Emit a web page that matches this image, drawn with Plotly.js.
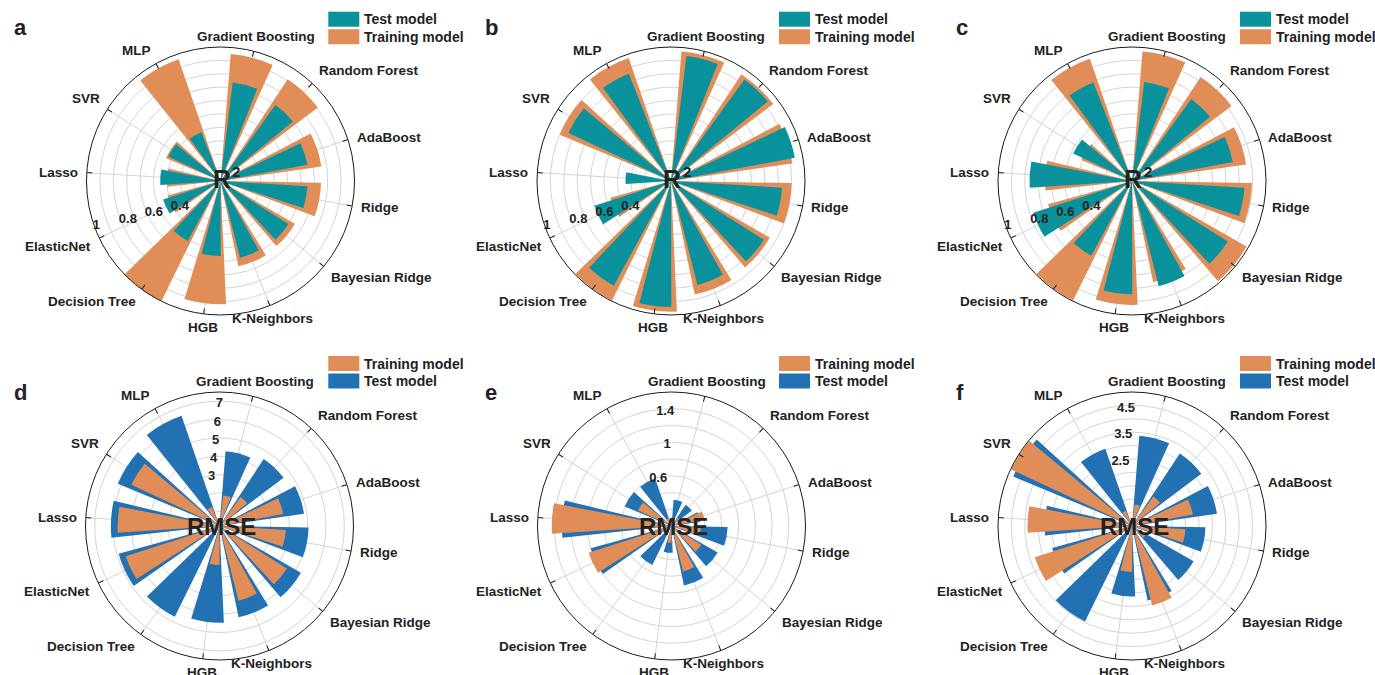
<!DOCTYPE html>
<html>
<head>
<meta charset="utf-8">
<script src="https://cdn.plot.ly/plotly-3.0.1.min.js"></script>
<style>
  html, body { margin: 0; padding: 0; background: #ffffff; }
  #chart { width: 1375px; height: 675px; }
</style>
</head>
<body>
<div id="chart"></div>
<script>
// ---------- data ----------
const categories = ["Gradient Boosting", "Random Forest", "AdaBoost", "Ridge", "Bayesian Ridge",
  "K-Neighbors", "HGB", "Decision Tree", "ElasticNet", "Lasso", "SVR", "MLP"];

// R2 panels (a, b, c)
const r2TrainA = [0.95, 0.91, 0.76, 0.75, 0.64, 0.65, 0.92, 1.00, 0.41, 0.40, 0.44, 0.96];
const r2TestA  = [0.74, 0.70, 0.66, 0.65, 0.60, 0.59, 0.56, 0.51, 0.45, 0.45, 0.43, 0.39];
const r2TrainB = [0.97, 0.955, 0.915, 0.90, 0.85, 0.865, 0.975, 0.995, 0.47, 0.05, 0.90, 0.97];
const r2TestB  = [0.94, 0.935, 0.94, 0.83, 0.82, 0.80, 0.94, 0.89, 0.60, 0.34, 0.845, 0.86];
const r2TrainC = [0.97, 0.93, 0.86, 0.895, 0.985, 0.77, 0.925, 0.995, 0.65, 0.65, 0.41, 0.965];
const r2TestC  = [0.745, 0.755, 0.765, 0.84, 0.845, 0.81, 0.845, 0.635, 0.775, 0.765, 0.485, 0.79];

// RMSE panels (d, e, f)
const rmseTrainD = [1.88, 2.15, 3.73, 3.82, 4.54, 4.40, 2.32, 0.0, 5.57, 5.75, 5.50, 1.30];
const rmseTestD  = [4.29, 4.57, 4.85, 5.05, 5.31, 5.28, 5.47, 5.71, 5.90, 6.12, 6.20, 6.55];
const rmseTrainE = [0.10, 0.12, 0.40, 0.35, 0.42, 0.56, 0.20, 0.0, 1.04, 1.43, 0.44, 0.10];
const rmseTestE  = [0.315, 0.305, 0.35, 0.67, 0.635, 0.725, 0.32, 0.52, 1.00, 1.31, 0.605, 0.60];
const rmseTrainF = [0.81, 1.36, 2.31, 2.00, 0.60, 3.06, 1.72, 0.0, 3.81, 3.90, 4.98, 0.60];
const rmseTestF  = [3.38, 3.24, 3.20, 2.74, 2.65, 2.84, 2.63, 3.97, 3.09, 3.26, 4.80, 3.05];

const legendTest = "Test model";
const legendTrain = "Training model";
const panelLetters = ["a", "b", "c", "d", "e", "f"];

// ---------- styling ----------
const W = 1375, H = 675;
const TEAL = "#0a929c", ORANGE = "#e08d58", BLUE = "#2271b3";
const FONT = "Liberation Sans, Arial, Helvetica, sans-serif";
const TXT = "#222222";
const GRID = "#d4d4d4";
const RAD = 134;
const ROTATION = 75.6, PERIOD = 12.5;
const LABEL_R = RAD + 8;
const centers = [[220.5, 181], [671, 181], [1132, 181], [219.5, 526], [671.5, 526], [1132, 526]];
const px = x => x / W;
const py = y => 1 - y / H;

const WIDE = 0.68, NARROW = 0.51;

const panels = [
  {back: {name: legendTrain, r: r2TrainA, color: ORANGE}, front: {name: legendTest, r: r2TestA, color: TEAL}, kind: "r2"},
  {back: {name: legendTrain, r: r2TrainB, color: ORANGE}, front: {name: legendTest, r: r2TestB, color: TEAL}, kind: "r2"},
  {back: {name: legendTrain, r: r2TrainC, color: ORANGE}, front: {name: legendTest, r: r2TestC, color: TEAL}, kind: "r2"},
  {back: {name: legendTest, r: rmseTestD, color: BLUE}, front: {name: legendTrain, r: rmseTrainD, color: ORANGE}, kind: "d"},
  {back: {name: legendTest, r: rmseTestE, color: BLUE}, front: {name: legendTrain, r: rmseTrainE, color: ORANGE}, kind: "e"},
  {back: {name: legendTest, r: rmseTestF, color: BLUE}, front: {name: legendTrain, r: rmseTrainF, color: ORANGE}, kind: "f"}
];

const radialSpecs = {
  r2: {range: [0, 1], tickvals: [0.1,0.2,0.3,0.4,0.5,0.6,0.7,0.8,0.9,1.0],
       ticktext: ["","","","0.4","","0.6","","0.8","","1"], angle: 194, side: "counterclockwise"},
  d:  {range: [0.2, 7.5], tickvals: [1,2,3,4,5,6,7],
       ticktext: ["","","3","4","5","6","7"], angle: 84, side: "counterclockwise"},
  e:  {range: [0, 1.6], tickvals: [0.2,0.4,0.6,0.8,1.0,1.2,1.4,1.6],
       ticktext: ["","","0.6","","1","","1.4",""], angle: 84, side: "counterclockwise"},
  f:  {range: [0, 5], tickvals: [0.5,1,1.5,2,2.5,3,3.5,4,4.5,5],
       ticktext: ["","","","","2.5","","3.5","","4.5",""], angle: 84, side: "counterclockwise"}
};

const data = [];
const layout = {
  width: W, height: H,
  margin: {l: 0, r: 0, t: 0, b: 0},
  paper_bgcolor: "#ffffff",
  showlegend: false,
  font: {family: FONT, color: TXT},
  annotations: [],
  shapes: []
};

panels.forEach((p, i) => {
  const key = i === 0 ? "polar" : "polar" + (i + 1);
  const [cx, cy] = centers[i];
  [p.back, p.front].forEach((s, j) => {
    data.push({
      type: "barpolar",
      subplot: key,
      name: s.name,
      theta: categories,
      r: s.r,
      width: j === 0 ? WIDE : NARROW,
      marker: {color: s.color, line: {width: 0}},
      hoverinfo: "theta+r+name"
    });
  });
  const rs = radialSpecs[p.kind];
  layout[key] = {
    domain: {x: [px(cx - RAD), px(cx + RAD)], y: [py(cy + RAD), py(cy - RAD)]},
    bgcolor: "#ffffff",
    barmode: "overlay",
    angularaxis: {
      type: "category", period: PERIOD, direction: "clockwise", rotation: ROTATION,
      showline: true, linecolor: "#1a1a1a", linewidth: 1,
      ticks: "inside", ticklen: 5, tickcolor: "#1a1a1a", tickwidth: 1,
      showgrid: true, gridcolor: GRID, gridwidth: 1,
      showticklabels: false
    },
    radialaxis: {
      range: rs.range, tickmode: "array", tickvals: rs.tickvals, ticktext: rs.ticktext,
      angle: rs.angle, tickangle: rs.angle, side: rs.side,
      showline: false, ticks: "", showgrid: true, gridcolor: GRID, gridwidth: 1,
      tickfont: {family: FONT, size: 13, color: TXT, weight: "bold"}
    }
  };

  // category labels around the circle, at the angular axis positions
  categories.forEach((c, k) => {
    const th = (ROTATION - k * 360 / PERIOD) * Math.PI / 180;
    const cs = Math.cos(th), sn = Math.sin(th);
    const xa = Math.abs(cs) < 0.42 ? "center" : (cs > 0 ? "left" : "right");
    const ya = Math.abs(sn) < 0.37 ? "middle" : (sn > 0 ? "bottom" : "top");
    layout.annotations.push({
      xref: "paper", yref: "paper",
      x: px(cx + LABEL_R * cs), y: py(cy - LABEL_R * sn),
      xanchor: xa, yanchor: ya, showarrow: false, borderpad: 0,
      yshift: ya === "top" ? 3 : (ya === "bottom" ? -2 : 0),
      text: c, font: {family: FONT, size: 13.5, color: TXT, weight: "bold"}
    });
  });

  // panel letter
  const col = i % 3;
  const letterX = [12, 483, 954][col];
  const letterY = i < 3 ? 28 : 392;
  layout.annotations.push({
    xref: "paper", yref: "paper", x: px(letterX), y: py(letterY),
    xanchor: "left", yanchor: "middle", showarrow: false,
    text: panelLetters[i], font: {family: FONT, size: 22, color: TXT, weight: "bold"}
  });

  // center label
  if (p.kind === "r2") {
    layout.annotations.push({
      xref: "paper", yref: "paper", x: px(cx + 1), y: py(cy - 2),
      xanchor: "center", yanchor: "middle", showarrow: false,
      text: "R", font: {family: FONT, size: 25, color: TXT, weight: "bold"}
    });
    layout.annotations.push({
      xref: "paper", yref: "paper", x: px(cx + 15.5), y: py(cy - 9.5),
      xanchor: "center", yanchor: "middle", showarrow: false,
      text: "2", font: {family: FONT, size: 15, color: TXT, weight: "bold"}
    });
  } else {
    layout.annotations.push({
      xref: "paper", yref: "paper", x: px(cx + 2), y: py(cy),
      xanchor: "center", yanchor: "middle", showarrow: false,
      text: "RMSE", font: {family: FONT, size: 24, color: TXT, weight: "bold"}
    });
  }

  // legend (two swatches + text)
  const lx = [328.3, 779, 1240][col];
  const ly0 = i < 3 ? 11.7 : 356;
  const items = [p.front, p.back];
  items.forEach((s, k) => {
    const y0 = ly0 + k * 17.5;
    layout.shapes.push({
      type: "rect", xref: "paper", yref: "paper",
      x0: px(lx), x1: px(lx + 31), y0: py(y0 + 15), y1: py(y0),
      fillcolor: s.color, line: {width: 0}
    });
    layout.annotations.push({
      xref: "paper", yref: "paper", x: px(lx + 34), y: py(y0 + 7.5),
      xanchor: "left", yanchor: "middle", showarrow: false,
      text: s.name, font: {family: FONT, size: 14, color: TXT, weight: "bold"}
    });
  });
});

Plotly.newPlot("chart", data, layout, {displayModeBar: false, staticPlot: true});
</script>
</body>
</html>
